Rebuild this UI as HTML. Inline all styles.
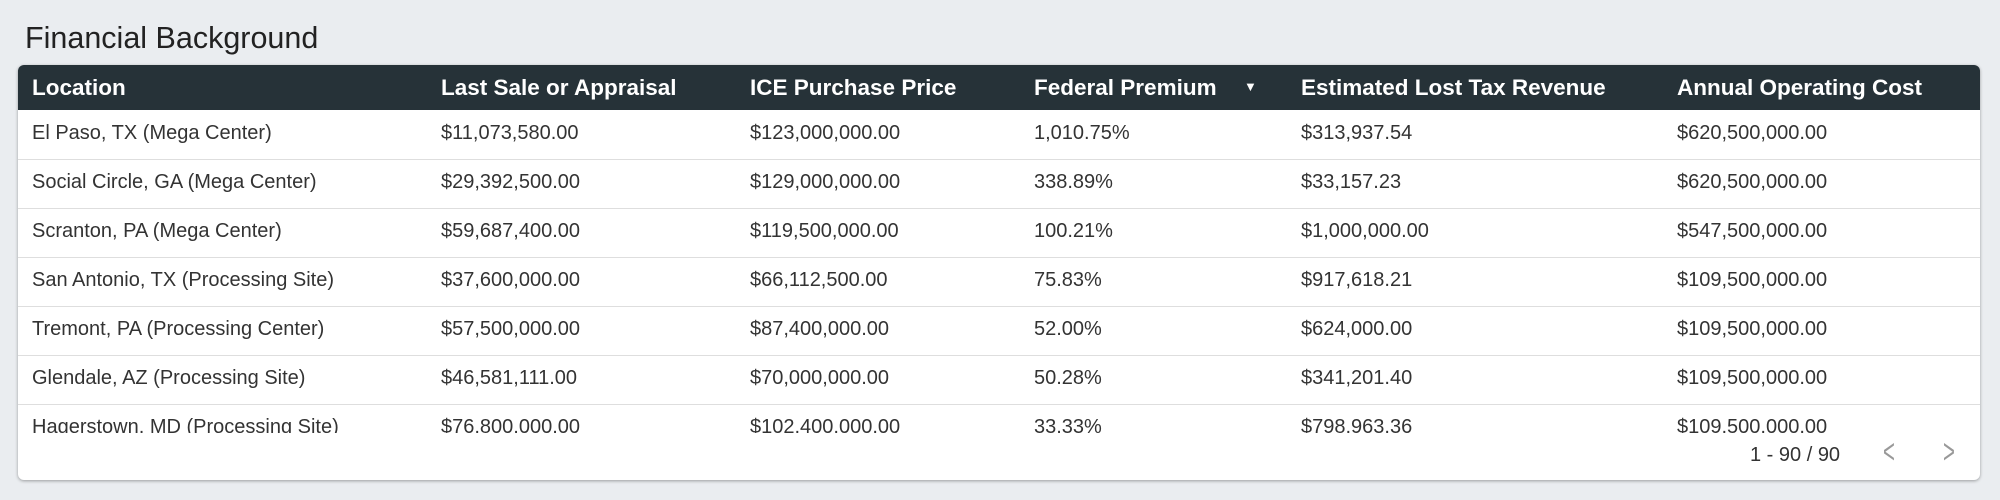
<!DOCTYPE html>
<html><head><style>
body{margin:0;width:2000px;height:500px;background:#eaedf0;font-family:"Liberation Sans",Arial,sans-serif;overflow:hidden;position:relative}
.title{position:absolute;left:25px;top:21px;font-size:30.5px;color:#222}
.card{position:absolute;left:18px;top:65px;width:1962px;height:415px;background:#fff;border-radius:6px;box-shadow:0 1px 3px rgba(0,0,0,.35);overflow:hidden}
.head{position:absolute;left:0;top:0;width:100%;height:45px;background:#263238;color:#fff;font-weight:bold;font-size:22.5px}
.c{position:absolute;white-space:nowrap}
.head .c{top:10px}
.body{position:absolute;left:0;top:45px;width:100%;height:323px;overflow:hidden}
.row{position:absolute;left:0;width:100%;height:49px;border-bottom:1.5px solid #dedede;font-size:20px;color:#333}
.row .c{top:12px}
</style></head><body>
<div class="title">Financial Background</div>
<div class="card">
<div class="head">
<span class="c" style="left:14px">Location</span>
<span class="c" style="left:423px">Last Sale or Appraisal</span>
<span class="c" style="left:732px">ICE Purchase Price</span>
<span class="c" style="left:1016px">Federal Premium</span>
<span class="c" style="left:1226px;top:14px;font-size:13px">▼</span>
<span class="c" style="left:1283px">Estimated Lost Tax Revenue</span>
<span class="c" style="left:1659px">Annual Operating Cost</span>
</div>
<div class="body">
<div class="row" style="top:0"><span class="c" style="left:14px">El Paso, TX (Mega Center)</span><span class="c" style="left:423px">$11,073,580.00</span><span class="c" style="left:732px">$123,000,000.00</span><span class="c" style="left:1016px">1,010.75%</span><span class="c" style="left:1283px">$313,937.54</span><span class="c" style="left:1659px">$620,500,000.00</span></div>
<div class="row" style="top:49px"><span class="c" style="left:14px">Social Circle, GA (Mega Center)</span><span class="c" style="left:423px">$29,392,500.00</span><span class="c" style="left:732px">$129,000,000.00</span><span class="c" style="left:1016px">338.89%</span><span class="c" style="left:1283px">$33,157.23</span><span class="c" style="left:1659px">$620,500,000.00</span></div>
<div class="row" style="top:98px"><span class="c" style="left:14px">Scranton, PA (Mega Center)</span><span class="c" style="left:423px">$59,687,400.00</span><span class="c" style="left:732px">$119,500,000.00</span><span class="c" style="left:1016px">100.21%</span><span class="c" style="left:1283px">$1,000,000.00</span><span class="c" style="left:1659px">$547,500,000.00</span></div>
<div class="row" style="top:147px"><span class="c" style="left:14px">San Antonio, TX (Processing Site)</span><span class="c" style="left:423px">$37,600,000.00</span><span class="c" style="left:732px">$66,112,500.00</span><span class="c" style="left:1016px">75.83%</span><span class="c" style="left:1283px">$917,618.21</span><span class="c" style="left:1659px">$109,500,000.00</span></div>
<div class="row" style="top:196px"><span class="c" style="left:14px">Tremont, PA (Processing Center)</span><span class="c" style="left:423px">$57,500,000.00</span><span class="c" style="left:732px">$87,400,000.00</span><span class="c" style="left:1016px">52.00%</span><span class="c" style="left:1283px">$624,000.00</span><span class="c" style="left:1659px">$109,500,000.00</span></div>
<div class="row" style="top:245px"><span class="c" style="left:14px">Glendale, AZ (Processing Site)</span><span class="c" style="left:423px">$46,581,111.00</span><span class="c" style="left:732px">$70,000,000.00</span><span class="c" style="left:1016px">50.28%</span><span class="c" style="left:1283px">$341,201.40</span><span class="c" style="left:1659px">$109,500,000.00</span></div>
<div class="row" style="top:294px;border:none"><span class="c" style="left:14px">Hagerstown, MD (Processing Site)</span><span class="c" style="left:423px">$76,800,000.00</span><span class="c" style="left:732px">$102,400,000.00</span><span class="c" style="left:1016px">33.33%</span><span class="c" style="left:1283px">$798,963.36</span><span class="c" style="left:1659px">$109,500,000.00</span></div>
</div>
<span class="c" style="left:1732px;top:379px;font-size:20px;color:#333">1 - 90 / 90</span>
<span class="c" style="left:1861px;top:368px;font-size:34px;color:#999;transform:scaleX(.6)">&lt;</span>
<span class="c" style="left:1921px;top:368px;font-size:34px;color:#999;transform:scaleX(.6)">&gt;</span>
</div>
</body></html>
